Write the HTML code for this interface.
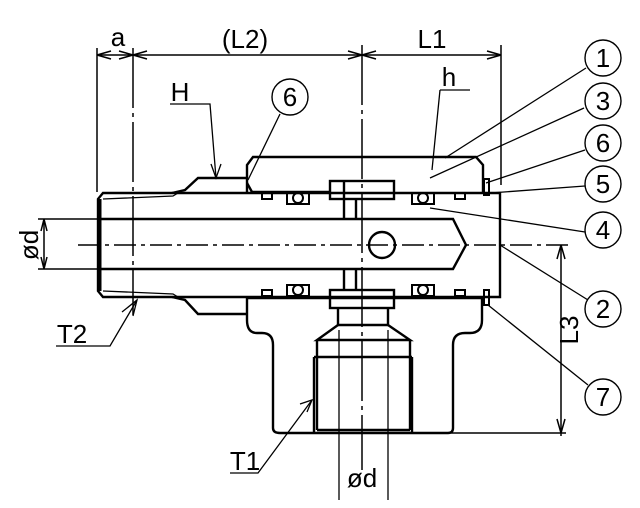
<!DOCTYPE html>
<html><head><meta charset="utf-8"><style>
html,body{margin:0;padding:0;background:#fff}
svg{display:block}
text{font-family:"Liberation Sans",sans-serif;fill:#000}
</style></head><body>
<svg width="640" height="508" viewBox="0 0 640 508" xmlns="http://www.w3.org/2000/svg">
<g stroke="#000" fill="none" stroke-width="1.5">
<line x1="97" y1="48" x2="97" y2="192"/>
<line x1="133" y1="48" x2="133" y2="315" stroke-dasharray="60,5,4,5"/>
<line x1="362" y1="45" x2="362" y2="470" stroke-dasharray="60,5,4,5"/>
<line x1="501" y1="45" x2="501" y2="185"/>
<line x1="97" y1="55" x2="501" y2="55"/>
<path d="M97 55 l14 -4 M97 55 l14 4 M133 55 l-14 -4 M133 55 l-14 4 M133 55 l14 -4 M133 55 l14 4 M362 55 l-14 -4 M362 55 l-14 4 M362 55 l14 -4 M362 55 l14 4 M501 55 l-14 -4 M501 55 l-14 4"/>
<line x1="78" y1="245" x2="570" y2="245" stroke-dasharray="22,5,4,5"/>
<line x1="38" y1="219" x2="100" y2="219"/>
<line x1="38" y1="269" x2="100" y2="269"/>
<line x1="44" y1="219" x2="44" y2="269"/>
<path d="M44 219 l-3 12 M44 219 l3 12 M44 269 l-3 -12 M44 269 l3 -12"/>
<line x1="561" y1="245" x2="561" y2="436"/>
<line x1="450" y1="433" x2="566" y2="433"/>
<path d="M561 245 l-4 14 M561 245 l4 14 M561 433 l-4 -14 M561 433 l4 -14"/>
</g>
<g stroke="#000" fill="none" stroke-width="2.4">
<path d="M103 193 L500 193 L500 297 L103 297 L98 291 L98 199 Z"/>
<line x1="100" y1="199" x2="100" y2="291" stroke-width="3"/>
<path d="M100 219 L453 219 L466 245 L453 269 L100 269"/>
<circle cx="382" cy="245" r="13"/>
<path d="M172 193 L185 190 L198 178 L247 178"/>
<path d="M172 297 L185 300 L198 314 L247 314"/>
<path d="M247 192 L247 165 L253 157 L476 157 L483 165 L483 192"/>
<path d="M247 183 L252 192 L330 192"/>
<path d="M247 298 L482 298 L482 320 Q482 333 470 333 L465 333 Q453 333 453 345 L453 428 Q453 433 448 433 L280 433 Q273 433 273 428 L273 345 Q273 333 262 333 L257 333 Q247 333 247 320 Z"/>
<rect x="330" y="181" width="64" height="18"/>
<rect x="330" y="290" width="64" height="18"/>
<line x1="344" y1="181" x2="344" y2="219"/>
<line x1="356" y1="199" x2="356" y2="219"/>
<line x1="344" y1="269" x2="344" y2="290"/>
<line x1="356" y1="269" x2="356" y2="290"/>
<path d="M338 308 L338 325 M388 308 L388 325 M338 325 L388 325"/>
<path d="M338 325 L317 340 L410 340 L388 325"/>
<path d="M314 357 L412 357 M317 340 L317 430 M410 340 L410 430 M314 433 L314 357 M412 357 L412 433 M317 430 L410 430"/>
</g>
<g stroke="#000" fill="none" stroke-width="1.3">
<path d="M103 199 L173 196 L178 193"/>
<path d="M103 291 L173 294 L178 297"/>
<line x1="339" y1="330" x2="339" y2="500"/>
<line x1="388" y1="330" x2="388" y2="500"/>
</g>
<g stroke="#000" fill="none" stroke-width="2">
<rect x="262" y="193" width="10" height="6"/><rect x="287" y="193" width="22" height="11"/><circle cx="298" cy="198" r="5"/>
<rect x="412" y="193" width="22" height="11"/><circle cx="423" cy="198" r="5"/><rect x="455" y="193" width="10" height="6"/>
<rect x="262" y="290" width="10" height="6"/><rect x="287" y="285" width="22" height="11"/><circle cx="298" cy="290" r="5"/>
<rect x="412" y="285" width="22" height="11"/><circle cx="423" cy="290" r="5"/><rect x="455" y="290" width="10" height="6"/>
<rect x="484" y="179" width="5" height="16"/><rect x="484" y="290" width="5" height="15"/>
</g>
<g stroke="#000" fill="none" stroke-width="1.3">
<path d="M170 104 L210 104 L216 178"/><path d="M211 164 l5 14 l5 -14"/>
<path d="M280 114 L248 180"/>
<path d="M440 90 L470 90 M440 90 L432 170"/>
<path d="M586 68 L445 158"/>
<path d="M584 108 L430 178"/>
<path d="M585 150 L486 183"/>
<path d="M585 186 L490 193"/>
<path d="M585 232 L430 208"/>
<path d="M588 300 L500 245"/>
<path d="M588 385 L488 305"/>
<path d="M56 346 L110 346 L137 300"/><path d="M122 312 l15 -12 l-4 16"/>
<path d="M230 473 L258 473 L312 400"/><path d="M300 404 l12 -4 l-5 12"/>
</g>
<g stroke="#000" fill="#fff" stroke-width="1.4">
<circle cx="290" cy="97" r="18"/>
<circle cx="603" cy="58" r="18"/><circle cx="603" cy="101" r="18"/><circle cx="603" cy="143" r="18"/>
<circle cx="603" cy="184" r="18"/><circle cx="603" cy="230" r="18"/><circle cx="603" cy="309" r="18"/><circle cx="603" cy="397" r="18"/>
</g>
<g font-size="26" text-anchor="middle">
<text x="290" y="106">6</text>
<text x="603" y="67">1</text><text x="603" y="110">3</text><text x="603" y="152">6</text>
<text x="603" y="193">5</text><text x="603" y="239">4</text><text x="603" y="318">2</text><text x="603" y="406">7</text>
<text x="118" y="46">a</text><text x="245" y="48">(L2)</text><text x="432" y="48">L1</text>
<text x="180" y="101">H</text><text x="449" y="86">h</text>
<text x="72" y="343">T2</text><text x="245" y="470">T1</text>
<text x="362" y="487">ød</text>
<text transform="translate(38,245) rotate(-90)">ød</text>
<text transform="translate(578,330) rotate(-90)">L3</text>
</g>
</svg>
</body></html>
